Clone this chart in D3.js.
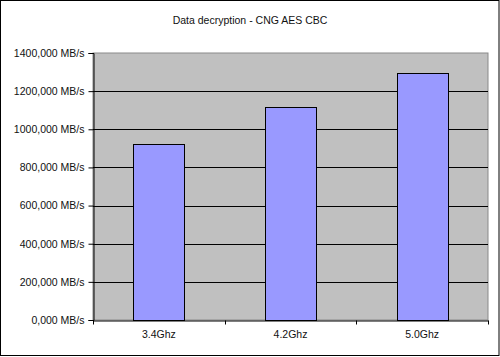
<!DOCTYPE html>
<html><head><meta charset="utf-8">
<script src="https://cdn.jsdelivr.net/npm/d3@7"></script>
<style>html,body{margin:0;padding:0;background:#fff;}svg{display:block;}</style>
</head><body>
<script>
const categories = ["3.4Ghz", "4.2Ghz", "5.0Ghz"];
const values = [923, 1115, 1297];
const yTicks = [0, 200, 400, 600, 800, 1000, 1200, 1400];
const title = "Data decryption - CNG AES CBC";

const W = 500, H = 357;
const m = {left: 93, top: 53, right: 12, bottom: 37};
const iw = W - m.left - m.right, ih = H - m.top - m.bottom;
const font = "Liberation Sans, Arial, sans-serif";

const svg = d3.select("body").append("svg").attr("width", W).attr("height", H);
svg.append("rect").attr("x", 0.5).attr("y", 0.5).attr("width", W - 1.5).attr("height", H - 2)
  .attr("fill", "#fff").attr("stroke", "#000");

svg.append("text").attr("x", 250).attr("y", 24).attr("text-anchor", "middle")
  .attr("font-family", font).attr("font-size", 10.5).attr("fill", "#111").text(title);

const x = d3.scaleBand().domain(categories).range([0, iw]).paddingInner(0.613).paddingOuter(0.3065);
const y = d3.scaleLinear().domain([0, 1400]).range([ih, 0]);

const g = svg.append("g").attr("transform", `translate(${m.left},${m.top})`);
g.append("rect").attr("x", 0).attr("y", 0).attr("width", iw).attr("height", ih)
  .attr("fill", "#c0c0c0").attr("stroke", "#8a8a8a");

g.selectAll("line.grid").data(yTicks.filter(d => d > 0 && d < 1400)).join("line")
  .attr("x1", 0).attr("x2", iw).attr("y1", d => Math.round(y(d)) + 0.5).attr("y2", d => Math.round(y(d)) + 0.5)
  .attr("stroke", "#000");

g.selectAll("rect.bar").data(values).join("rect")
  .attr("x", (d, i) => Math.round(x(categories[i])) + 0.5)
  .attr("y", d => Math.round(y(d)) + 0.5)
  .attr("width", Math.round(x.bandwidth()))
  .attr("height", d => Math.round(ih - y(d)))
  .attr("fill", "#9999ff").attr("stroke", "#000");

const yAxis = d3.axisLeft(y).tickValues(yTicks).tickSize(5).tickPadding(4)
  .tickFormat(d => d.toFixed(3).replace(".", ",") + " MB/s");
const ya = g.append("g").attr("transform", "translate(0.5,0)").call(yAxis);
ya.select(".domain").attr("stroke", "#000");
ya.selectAll("text").attr("font-family", font).attr("font-size", 10.5).attr("fill", "#111");

const xa = g.append("g").attr("transform", `translate(0,${ih + 0.5})`)
  .call(d3.axisBottom(x).tickSize(0).tickPadding(10));
xa.select(".domain").attr("stroke", "#000");
xa.selectAll("text").attr("font-family", font).attr("font-size", 10.5).attr("fill", "#111");
xa.selectAll("line.sep").data(d3.range(categories.length + 1)).join("line")
  .attr("x1", i => Math.round(i * x.step()) + 0.5).attr("x2", i => Math.round(i * x.step()) + 0.5)
  .attr("y1", 0).attr("y2", 4).attr("stroke", "#000");
</script>
</body></html>
